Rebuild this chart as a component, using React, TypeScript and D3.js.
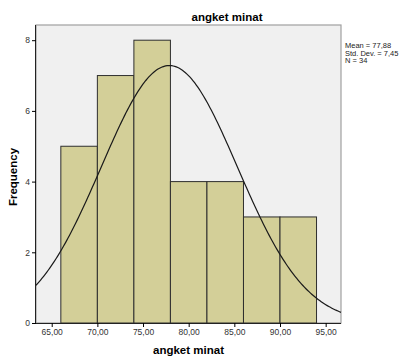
import React, { useRef, useEffect } from 'react';
import * as d3 from 'd3';

// histogram bins (lower edge, upper edge) and counts
const binStarts = [66, 70, 74, 78, 82, 86, 90];
const binWidth = 4;
const counts = [5, 7, 8, 4, 4, 3, 3];

const xTicks = [65, 70, 75, 80, 85, 90, 95];
const yTicks = [0, 2, 4, 6, 8];

const mean = 77.88;
const stdDev = 7.45;
const n = 34;
const statLines = ['Mean = 77,88', 'Std. Dev. = 7,45', 'N = 34'];

const App = () => {
    const svgRef = useRef<SVGSVGElement>(null);

    useEffect(() => {
        const svg = d3.select(svgRef.current);
        svg.selectAll('*').remove();

        const width = 401;
        const height = 356;
        const plot = { left: 36, right: 341, top: 25, bottom: 323 };
        const font = 'Arial, "Liberation Sans", sans-serif';

        const x = d3.scaleLinear().domain([63.28, 96.68]).range([plot.left, plot.right]);
        const y = d3.scaleLinear().domain([0, 8.43]).range([plot.bottom, plot.top]);

        svg.attr('width', width).attr('height', height);

        // plot background + frame
        svg.append('rect')
            .attr('x', plot.left)
            .attr('y', plot.top)
            .attr('width', plot.right - plot.left)
            .attr('height', plot.bottom - plot.top)
            .attr('fill', '#f0f0f0')
            .attr('stroke', '#a0a0a0')
            .attr('stroke-width', 1.2);

        // bars
        svg.append('g')
            .selectAll('rect')
            .data(binStarts)
            .join('rect')
            .attr('x', d => x(d))
            .attr('y', (d, i) => y(counts[i]))
            .attr('width', d => x(d + binWidth) - x(d))
            .attr('height', (d, i) => y(0) - y(counts[i]))
            .attr('fill', '#d3cf98')
            .attr('stroke', '#2e2e2e')
            .attr('stroke-width', 1);

        // fitted normal curve
        const density = (v: number) =>
            (n * binWidth) / (stdDev * Math.sqrt(2 * Math.PI)) *
            Math.exp(-0.5 * ((v - mean) / stdDev) ** 2);
        const [x0, x1] = x.domain();
        const curvePts = d3.range(0, 201).map(i => x0 + (x1 - x0) * i / 200);
        svg.append('path')
            .datum(curvePts)
            .attr('fill', 'none')
            .attr('stroke', '#1a1a1a')
            .attr('stroke-width', 1.2)
            .attr('d', d3.line<number>().x(d => x(d)).y(d => y(density(d))));

        // axes
        const xAxis = svg.append('g')
            .attr('transform', `translate(0,${plot.bottom})`)
            .call(d3.axisBottom(x).tickValues(xTicks).tickSize(4).tickPadding(2)
                .tickFormat(d => d3.format('.2f')(d as number).replace('.', ',')));
        xAxis.select('.domain').attr('d', `M${plot.left},0.5H${plot.right}`).attr('stroke', '#222');
        xAxis.selectAll('text').attr('fill', '#333').style('font-size', '8.5px').style('font-family', font);

        const yAxis = svg.append('g')
            .attr('transform', `translate(${plot.left},0)`)
            .call(d3.axisLeft(y).tickValues(yTicks).tickSize(4).tickPadding(2));
        yAxis.select('.domain').attr('d', `M-0.5,${plot.top}V${plot.bottom}`).attr('stroke', '#222');
        yAxis.selectAll('text').attr('fill', '#333').style('font-size', '8.5px').style('font-family', font);

        // titles
        svg.append('text')
            .attr('x', 227)
            .attr('y', 21)
            .attr('text-anchor', 'middle')
            .style('font-family', font)
            .style('font-weight', 'bold')
            .style('font-size', '11.5px')
            .text('angket minat');

        svg.append('text')
            .attr('x', (plot.left + plot.right) / 2)
            .attr('y', 354)
            .attr('text-anchor', 'middle')
            .style('font-family', font)
            .style('font-weight', 'bold')
            .style('font-size', '11.5px')
            .text('angket minat');

        svg.append('text')
            .attr('transform', `translate(17,${(plot.top + plot.bottom) / 2 + 3}) rotate(-90)`)
            .attr('text-anchor', 'middle')
            .style('font-family', font)
            .style('font-weight', 'bold')
            .style('font-size', '11.5px')
            .text('Frequency');

        // stats legend (slightly condensed so the last line fits the canvas)
        svg.append('g')
            .selectAll('text')
            .data(statLines)
            .join('text')
            .attr('x', 345)
            .attr('y', (d, i) => 48 + i * 7.5)
            .style('font-family', font)
            .style('font-size', '7.5px')
            .attr('fill', '#222')
            .text(d => d);
    }, []);

    return (
        <div style={{ position: 'absolute', left: 0, top: 0 }}>
            <svg ref={svgRef}></svg>
        </div>
    );
};

export default App;
